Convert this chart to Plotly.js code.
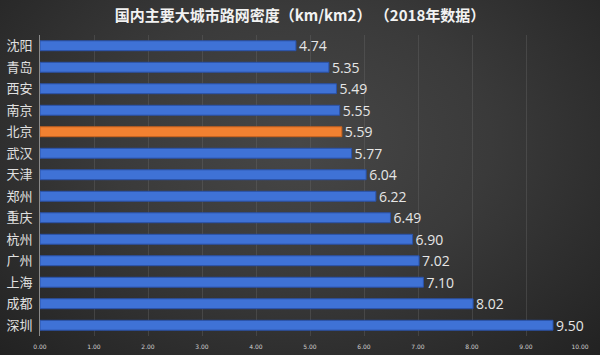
<!DOCTYPE html>
<html><head><meta charset="utf-8">
<script src="https://cdn.plot.ly/plotly-3.0.1.min.js"></script>
<style>
html,body{margin:0;padding:0;}
#chart{width:600px;height:355px;background:radial-gradient(ellipse at 50% 40%, #474747 0%, #3a3a3a 45%, #222 100%);}
</style></head>
<body><div id="chart"></div>
<script>
const cities = ["沈阳","青岛","西安","南京","北京","武汉","天津","郑州","重庆","杭州","广州","上海","成都","深圳"];
const density = [4.74,5.35,5.49,5.55,5.59,5.77,6.04,6.22,6.49,6.90,7.02,7.10,8.02,9.50];
const highlight = "北京";
const xTicks = [0,1,2,3,4,5,6,7,8,9,10];

const colors = cities.map(c => c === highlight ? "#f28131" : "#3f72d6");
const lineColors = cities.map(c => c === highlight ? "#c8621e" : "#2a52a8");

const trace = {
  type: "bar", orientation: "h",
  y: cities, x: density,
  marker: {color: colors, line: {color: lineColors, width: 1}},
  text: density.map(v => v.toFixed(2)),
  textposition: "outside", cliponaxis: false, constraintext: "none",
  textfont: {family: "Open Sans, DejaVu Sans, sans-serif", size: 14, color: "#e6e6e6"},
  hoverinfo: "none"
};

const layout = {
  width: 600, height: 355,
  margin: {l: 40, r: 20, t: 35, b: 19},
  paper_bgcolor: "rgba(0,0,0,0)", plot_bgcolor: "rgba(0,0,0,0)",
  bargap: 0.54,
  showlegend: false,
  title: {text: "<b>国内主要大城市路网密度（km/km2） （2018年数据）</b>", x: 0.5, xanchor: "center", y: 0.955, yanchor: "middle",
    font: {family: "Noto Sans CJK SC, sans-serif", size: 15, color: "#f2f2f2"}},
  xaxis: {range: [0, 10], tickvals: xTicks, ticktext: xTicks.map(v => v.toFixed(2)),
    showgrid: true, gridcolor: "rgba(110,110,110,0.35)", gridwidth: 1, zeroline: false,
    tickfont: {family: "DejaVu Sans, sans-serif", size: 6, color: "#cfcfcf"}, ticks: "", ticklabelstandoff: 6, fixedrange: true},
  yaxis: {autorange: "reversed", showline: true, linecolor: "#8a8a8a", linewidth: 1,
    tickfont: {family: "Noto Sans CJK SC, sans-serif", size: 13, color: "#e0e0e0"}, ticks: "", ticklabelstandoff: 4},
  font: {family: "Noto Sans CJK SC, sans-serif"}
};

Plotly.newPlot("chart", [trace], layout, {displayModeBar: false, staticPlot: true});
</script></body></html>
